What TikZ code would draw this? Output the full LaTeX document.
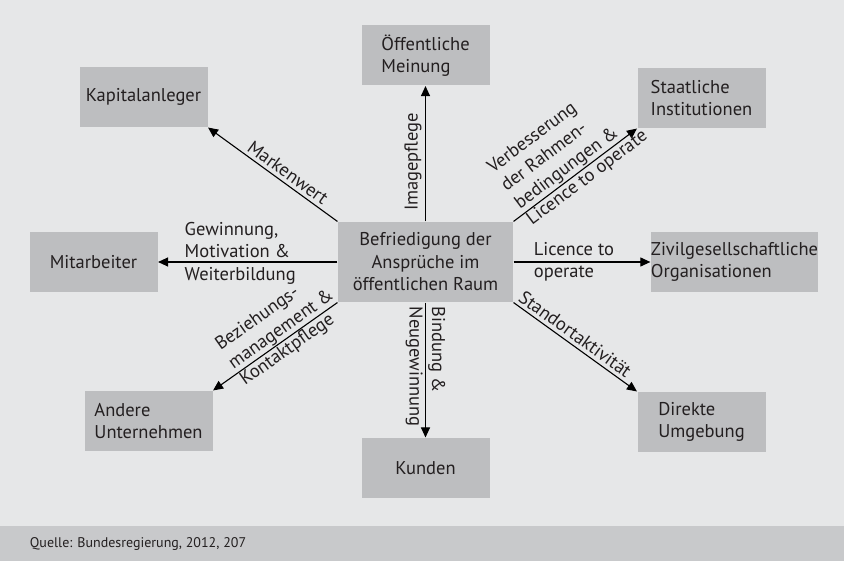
\documentclass[tikz,border=0pt]{standalone}
\usepackage{fontspec}
\setmainfont{PT Sans}
\usetikzlibrary{arrows.meta}
\definecolor{bggray}{HTML}{E6E7E8}
\definecolor{boxgray}{HTML}{BDBEC0}
\definecolor{footgray}{HTML}{C8C9CB}
\definecolor{ink}{HTML}{231F20}
\begin{document}
\begin{tikzpicture}[x=1pt,y=-1pt,
    every node/.style={text=ink,font=\fontsize{18.5}{22.5}\selectfont},
    box/.style={fill=boxgray,minimum width=128pt,minimum height=60pt,align=left,inner sep=0pt},
    lbl/.style={align=left,inner sep=1pt},
    >={Triangle[length=10pt,width=9pt]},
    line width=1.1pt]
    \useasboundingbox (0,0) rectangle (844,561);
    \fill[bggray] (0,0) rectangle (844,526);
    \fill[footgray] (0,526) rectangle (844,561);
    \node[box,minimum width=175pt,minimum height=80pt,align=center] (M) at (425.5,262) {Befriedigung der\\Ansprüche im\\öffentlichen Raum};
    \node[box] (OM) at (425.5,55.5) {Öffentliche\\Meinung};
    \node[box] (KA) at (143.5,97) {Kapitalanleger};
    \node[box] (SI) at (701.5,98) {Staatliche\\Institutionen};
    \node[box] (MA) at (93.5,262) {Mitarbeiter};
    \node[box,minimum width=165pt] (ZO) at (734.5,262) {Zivilgesellschaftliche\\Organisationen};
    \node[box] (AU) at (148.5,421) {Andere\\Unternehmen};
    \node[box] (DU) at (701.5,422) {Direkte\\Umgebung};
    \node[box] (KU) at (425.5,468) {Kunden};
    \draw[->] (M) --node[sloped,above,pos=0.44] {Imagepflege} (OM);
    \draw[->] (M.north west) --node[sloped,above,pos=0.43] {Markenwert} (KA.south east);
    \draw[->] (M.north east) --node[lbl,sloped,anchor=south west,pos=0.07] {Verbesserung\\der Rahmen-\\bedingungen \&}
        node[lbl,sloped,anchor=north west,pos=0.07] {Licence to operate} (SI.south west);
    \draw[->] (M) --node[lbl,anchor=west,pos=0.86,yshift=9pt] {Gewinnung,\\Motivation \&\\Weiterbildung} (MA);
    \draw[->] (M) --node[lbl,anchor=west,pos=0.137] {Licence to\\operate} (ZO);
    \draw[->] (M.south west) --node[lbl,sloped,anchor=south west,pos=0.82] {Beziehungs-\\management \&}
        node[lbl,sloped,anchor=north west,pos=0.82] {Kontaktpflege} (AU.north east);
    \draw[->] (M) --node[lbl,sloped,anchor=west,pos=0.02] {Bindung \&\\Neugewinnung} (KU);
    \draw[->] (M.south east) --node[sloped,above,pos=0.45] {Standortaktivität} (DU.north west);
    % Quelle
    \node[font=\fontsize{14}{16}\selectfont,anchor=west] (Q) at (26,543.5) {Quelle: Bundesregierung, 2012, 207};
\end{tikzpicture}
\end{document}
